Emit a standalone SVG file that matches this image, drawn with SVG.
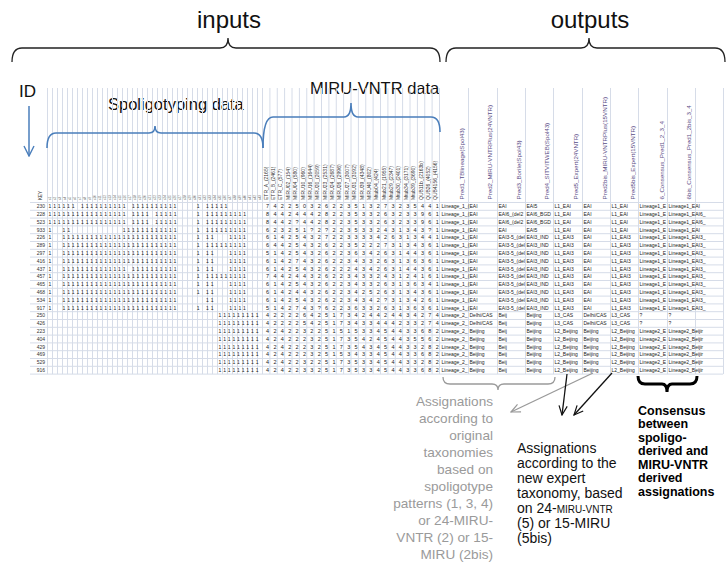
<svg xmlns="http://www.w3.org/2000/svg" xmlns:xlink="http://www.w3.org/1999/xlink" width="727" height="563" viewBox="0 0 727 563">
<style>
text{font-family:"Liberation Sans",Arial,sans-serif}
.big{font-size:24px;fill:#111;text-anchor:middle}
.lab{font-size:16.5px;fill:#111}
.id{font-size:5px;fill:#333;text-anchor:end}
.sp{font-size:5px;fill:#222;letter-spacing:2.22px}
.mv{font-size:5.5px;fill:#222;letter-spacing:4.317px}
.h{fill-opacity:0}
.o{font-size:5px;fill:#222}
.hd{font-size:6.2px;fill:#5a4c86}
.mh{font-size:5px;fill:#333}
.sh{font-size:3px;fill:#555}
.grid{stroke:#d6dce8;stroke-width:1;fill:none}
.brk{fill:none;stroke:#222;stroke-width:1.3}
.bb{fill:none;stroke:#4a7ebb;stroke-width:1.6}
.gt{font-size:13.6px;fill:#9a9a9a;text-anchor:end}
.bt{font-size:14px;fill:#111}
.bd{font-size:12.5px;fill:#000;font-weight:bold}
</style>
<defs>
<marker id="ab" viewBox="0 0 12 12" refX="11" refY="6" markerWidth="11" markerHeight="11" orient="auto" markerUnits="userSpaceOnUse"><path d="M1,1.5 L11,6 L1,10.5" fill="none" stroke="#111" stroke-width="1.3"/></marker>
<marker id="ag" viewBox="0 0 12 12" refX="11" refY="6" markerWidth="11" markerHeight="11" orient="auto" markerUnits="userSpaceOnUse"><path d="M1,1.5 L11,6 L1,10.5" fill="none" stroke="#999" stroke-width="1.3"/></marker>
<marker id="abl" viewBox="0 0 12 12" refX="11" refY="6" markerWidth="12" markerHeight="12" orient="auto" markerUnits="userSpaceOnUse"><path d="M1,1 L11,6 L1,11" fill="none" stroke="#4a7ebb" stroke-width="1.4"/></marker>
<g id="oA" class="o"><text x="441.5">Lineage_1_(</text><text x="469.5">EAI</text><text x="498.5">EAI</text><text x="526.5">EAI5</text><text x="554.5">L1_EAI</text><text x="583.5">EAI</text><text x="611.5">L1_EAI</text><text x="639.5">Lineage1_E</text><text x="668.5">Lineage1_EAI</text></g>
<g id="oB" class="o"><text x="441.5">Lineage_1_(</text><text x="469.5">EAI</text><text x="498.5">EAI6_(del2</text><text x="526.5">EAI6_BGD</text><text x="554.5">L1_EAI</text><text x="583.5">EAI</text><text x="611.5">L1_EAI</text><text x="639.5">Lineage1_E</text><text x="668.5">Lineage1_EAI6_</text></g>
<g id="oC" class="o"><text x="441.5">Lineage_1_(</text><text x="469.5">EAI</text><text x="498.5">EAI3-5_(del</text><text x="526.5">EAI3_IND</text><text x="554.5">L1_EAI3</text><text x="583.5">EAI</text><text x="611.5">L1_EAI3</text><text x="639.5">Lineage1_E</text><text x="668.5">Lineage1_EAI3_</text></g>
<g id="oD" class="o"><text x="441.5">Lineage_2_</text><text x="469.5">Delhi/CAS</text><text x="498.5">Beij</text><text x="526.5">Beijing</text><text x="554.5">L3_CAS</text><text x="583.5">Delhi/CAS</text><text x="611.5">L3_CAS</text><text x="639.5">?</text><text x="668.5">?</text></g>
<g id="oE" class="o"><text x="441.5">Lineage_2_</text><text x="469.5">Beijing</text><text x="498.5">Beij</text><text x="526.5">Beijing</text><text x="554.5">L2_Beijing</text><text x="583.5">Beijing</text><text x="611.5">L2_Beijing</text><text x="639.5">Lineage2_E</text><text x="668.5">Lineage2_Beijir</text></g>
<text id="s4" class="sp" x="48.6">1<tspan class="h">11</tspan>1111111111111111111111111<tspan class="h">1111</tspan>1<tspan class="h">1</tspan>11<tspan class="h">111</tspan>1111</text>
<text id="s5" class="sp" x="48.6">1<tspan class="h">11</tspan>1111111111111111111111111<tspan class="h">1111</tspan>1<tspan class="h">1</tspan>111111111</text>
<text id="s1" class="sp" x="48.6">11111111111111111<tspan class="h">1</tspan>1111<tspan class="h">1</tspan>11111<tspan class="h">1111</tspan>1<tspan class="h">1</tspan>111111111</text>
<text id="sB" class="sp" x="218.6">111111111</text>
</defs>

<g id="titles">
<text class="big" x="229" y="28">inputs</text>
<text class="big" x="590" y="28">outputs</text>
<text class="lab" x="19" y="97" style="font-size:17px">ID</text>
<text class="lab" x="310" y="94">MIRU-VNTR data</text>
<text class="lab" x="108" y="110">Spoligotyping data</text>
</g>

<g id="gridlines">
<path class="grid" d="M47.5 88V374.1M52.5 88V374.1M57.5 88V374.1M62.5 88V374.1M67.5 88V374.1M72.5 88V374.1M77.5 88V374.1M82.5 88V374.1M87.5 88V374.1M92.5 88V374.1M97.5 88V374.1M102.5 88V374.1M107.5 88V374.1M112.5 88V374.1M117.5 88V374.1M122.5 88V374.1M127.5 88V374.1M132.5 88V374.1M137.5 88V374.1M142.5 88V374.1M147.5 88V374.1M152.5 88V374.1M157.5 88V374.1M162.5 88V374.1M167.5 88V374.1M172.5 88V374.1M177.5 88V374.1M182.5 88V374.1M187.5 88V374.1M192.5 88V374.1M197.5 88V374.1M202.5 88V374.1M207.5 88V374.1M212.5 88V374.1M217.5 88V374.1M222.5 88V374.1M227.5 88V374.1M232.5 88V374.1M237.5 88V374.1M242.5 88V374.1M247.5 88V374.1M252.5 88V374.1M257.5 88V374.1M262.5 88V374.1M269.9 88V374.1M277.25 88V374.1M284.6 88V374.1M292 88V374.1M299.4 88V374.1M306.75 88V374.1M314.1 88V374.1M321.5 88V374.1M328.9 88V374.1M336.25 88V374.1M343.6 88V374.1M351 88V374.1M358.4 88V374.1M365.75 88V374.1M373.1 88V374.1M380.5 88V374.1M387.9 88V374.1M395.25 88V374.1M402.6 88V374.1M410 88V374.1M417.4 88V374.1M424.75 88V374.1M432.1 88V374.1M439.5 88V374.1M468.5 88V374.1M497.5 88V374.1M525.5 88V374.1M553.5 88V374.1M582.5 88V374.1M610.5 88V374.1M638.5 88V374.1M667.5 88V374.1M695.5 88V374.1M723.5 88V374.1"/>
<path class="grid" d="M30 202.5H723M30 210.3H723M30 218.1H723M30 225.9H723M30 233.7H723M30 241.5H723M30 249.3H723M30 257.1H723M30 264.9H723M30 272.7H723M30 280.5H723M30 288.3H723M30 296.1H723M30 303.9H723M30 311.7H723M30 319.5H723M30 327.3H723M30 335.1H723M30 342.9H723M30 350.7H723M30 358.5H723M30 366.3H723M30 374.1H723"/>
</g>

<g id="headers">
<text class="mh" transform="translate(42,200) rotate(-90)" style="font-size:4.5px">KEY</text>
<g class="sh">
<text transform="translate(51,200) rotate(-90)">s1</text><text transform="translate(56,200) rotate(-90)">s2</text><text transform="translate(61,200) rotate(-90)">s3</text><text transform="translate(66,200) rotate(-90)">s4</text><text transform="translate(71,200) rotate(-90)">s5</text><text transform="translate(76,200) rotate(-90)">s6</text><text transform="translate(81,200) rotate(-90)">s7</text><text transform="translate(86,200) rotate(-90)">s8</text><text transform="translate(91,200) rotate(-90)">s9</text><text transform="translate(96,200) rotate(-90)">s10</text><text transform="translate(101,200) rotate(-90)">s11</text><text transform="translate(106,200) rotate(-90)">s12</text><text transform="translate(111,200) rotate(-90)">s13</text><text transform="translate(116,200) rotate(-90)">s14</text><text transform="translate(121,200) rotate(-90)">s15</text><text transform="translate(126,200) rotate(-90)">s16</text><text transform="translate(131,200) rotate(-90)">s17</text><text transform="translate(136,200) rotate(-90)">s18</text><text transform="translate(141,200) rotate(-90)">s19</text><text transform="translate(146,200) rotate(-90)">s20</text><text transform="translate(151,200) rotate(-90)">s21</text><text transform="translate(156,200) rotate(-90)">s22</text><text transform="translate(161,200) rotate(-90)">s23</text><text transform="translate(166,200) rotate(-90)">s24</text><text transform="translate(171,200) rotate(-90)">s25</text><text transform="translate(176,200) rotate(-90)">s26</text><text transform="translate(181,200) rotate(-90)">s27</text><text transform="translate(186,200) rotate(-90)">s28</text><text transform="translate(191,200) rotate(-90)">s29</text><text transform="translate(196,200) rotate(-90)">s30</text><text transform="translate(201,200) rotate(-90)">s31</text><text transform="translate(206,200) rotate(-90)">s32</text><text transform="translate(211,200) rotate(-90)">s33</text><text transform="translate(216,200) rotate(-90)">s34</text><text transform="translate(221,200) rotate(-90)">s35</text><text transform="translate(226,200) rotate(-90)">s36</text><text transform="translate(231,200) rotate(-90)">s37</text><text transform="translate(236,200) rotate(-90)">s38</text><text transform="translate(241,200) rotate(-90)">s39</text><text transform="translate(246,200) rotate(-90)">s40</text><text transform="translate(251,200) rotate(-90)">s41</text><text transform="translate(256,200) rotate(-90)">s42</text><text transform="translate(261,200) rotate(-90)">s43</text>
</g>
<g class="mh">
<text transform="translate(267.7,200) rotate(-90)">ETR_A_(2165)</text><text transform="translate(275.1,200) rotate(-90)">ETR_B_(2461)</text><text transform="translate(282.4,200) rotate(-90)">ETR_C_(577)</text><text transform="translate(289.8,200) rotate(-90)">MIRU02_(154)</text><text transform="translate(297.2,200) rotate(-90)">MIRU04_(580)</text><text transform="translate(304.6,200) rotate(-90)">MIRU10_(960)</text><text transform="translate(311.9,200) rotate(-90)">MIRU16_(1644)</text><text transform="translate(319.3,200) rotate(-90)">MIRU20_(2059)</text><text transform="translate(326.7,200) rotate(-90)">MIRU23_(2531)</text><text transform="translate(334.1,200) rotate(-90)">MIRU24_(2687)</text><text transform="translate(341.4,200) rotate(-90)">MIRU26_(2996)</text><text transform="translate(348.8,200) rotate(-90)">MIRU27_(3007)</text><text transform="translate(356.2,200) rotate(-90)">MIRU31_(3192)</text><text transform="translate(363.6,200) rotate(-90)">MIRU39_(4348)</text><text transform="translate(370.9,200) rotate(-90)">MIRU40_(802)</text><text transform="translate(378.3,200) rotate(-90)">Mtub04_(424)</text><text transform="translate(385.7,200) rotate(-90)">Mtub21_(1955)</text><text transform="translate(393.1,200) rotate(-90)">Mtub29_(2347)</text><text transform="translate(400.4,200) rotate(-90)">Mtub30_(2401)</text><text transform="translate(407.8,200) rotate(-90)">Mtub34_(3171)</text><text transform="translate(415.2,200) rotate(-90)">Mtub39_(3690)</text><text transform="translate(422.6,200) rotate(-90)">QUB11b_(2163b)</text><text transform="translate(429.9,200) rotate(-90)">QUB26_(4052)</text><text transform="translate(437.3,200) rotate(-90)">QUB4156_(4156)</text>
</g>
<g class="hd">
<text transform="translate(464,199.5) rotate(-90)">Pred1_TBlineage(Spol43)</text>
<text transform="translate(492,199.5) rotate(-90)">Pred2_MIRU-VNTRPlus(24VNTR)</text>
<text transform="translate(520.5,199.5) rotate(-90)">Pred3_Borile(Spol43)</text>
<text transform="translate(549,199.5) rotate(-90)">Pred4_SITVITWEB(Spol43)</text>
<text transform="translate(578,199.5) rotate(-90)">Pred5_Expert(24VNTR)</text>
<text transform="translate(607,199.5) rotate(-90)">Pred2bis_MIRU-VNTRPlus(15VNTR)</text>
<text transform="translate(635,199.5) rotate(-90)">Pred5bis_Expert(15VNTR)</text>
<text transform="translate(664,199.5) rotate(-90)">6_Consensus_Pred1_2_3_4</text>
<text transform="translate(691,199.5) rotate(-90)">6bis_Consensus_Pred1_2bis_3_4</text>
</g>
</g>

<g id="rows">
<g transform="translate(0,208.2)"><text class="id" x="45">230</text><text class="sp" x="48.6">111111<tspan class="h">1</tspan>1111111111<tspan class="h">1</tspan>1111111111<tspan class="h">1111</tspan>1<tspan class="h">1</tspan>11111</text><text class="mv" x="266.07">742250326223513273235441</text><use xlink:href="#oA"/></g>
<g transform="translate(0,216)"><text class="id" x="45">228</text><use xlink:href="#s1"/><text class="mv" x="266.07">844244428223533263233961</text><use xlink:href="#oB"/></g>
<g transform="translate(0,223.8)"><text class="id" x="45">523</text><use xlink:href="#s1"/><text class="mv" x="266.07">8442?4428223533263233961</text><use xlink:href="#oB"/></g>
<g transform="translate(0,231.6)"><text class="id" x="45">933</text><text class="sp" x="48.6">1<tspan class="h">11</tspan>11<tspan class="h">11111111111</tspan>111111111111<tspan class="h">1111</tspan>1<tspan class="h">1</tspan>111111111</text><text class="mv" x="266.07">623251?2?2235332431343?1</text><use xlink:href="#oA"/></g>
<g transform="translate(0,239.4)"><text class="id" x="45">226</text><use xlink:href="#s4"/><text class="mv" x="266.07">614254327223333426313441</text><use xlink:href="#oC"/></g>
<g transform="translate(0,247.2)"><text class="id" x="45">289</text><use xlink:href="#s5"/><text class="mv" x="266.07">644254326223522273134361</text><use xlink:href="#oC"/></g>
<g transform="translate(0,255)"><text class="id" x="45">297</text><use xlink:href="#s4"/><text class="mv" x="266.07">514254326223634263144361</text><use xlink:href="#oC"/></g>
<g transform="translate(0,262.8)"><text class="id" x="45">416</text><use xlink:href="#s4"/><text class="mv" x="266.07">614274326223433263136361</text><use xlink:href="#oC"/></g>
<g transform="translate(0,270.6)"><text class="id" x="45">437</text><text class="sp" x="48.6">1<tspan class="h">11</tspan>11111111111111<tspan class="h">1</tspan>1111111111<tspan class="h">1111</tspan>1<tspan class="h">1</tspan>11<tspan class="h">111</tspan>1111</text><text class="mv" x="266.07">614254326222434263144361</text><use xlink:href="#oC"/></g>
<g transform="translate(0,278.4)"><text class="id" x="45">457</text><use xlink:href="#s5"/><text class="mv" x="266.07">744244326223433243124161</text><use xlink:href="#oC"/></g>
<g transform="translate(0,286.2)"><text class="id" x="45">465</text><use xlink:href="#s4"/><text class="mv" x="266.07">614254326223433263136341</text><use xlink:href="#oC"/></g>
<g transform="translate(0,294)"><text class="id" x="45">468</text><use xlink:href="#s4"/><text class="mv" x="266.07">614244326223425263134361</text><use xlink:href="#oC"/></g>
<g transform="translate(0,301.8)"><text class="id" x="45">534</text><text class="sp" x="48.6">1<tspan class="h">11</tspan>1111111111111111111111111<tspan class="h">111111</tspan>11<tspan class="h">111</tspan>1111</text><text class="mv" x="266.07">6142543262234342?3134261</text><use xlink:href="#oC"/></g>
<g transform="translate(0,309.6)"><text class="id" x="45">917</text><use xlink:href="#s4"/><text class="mv" x="266.07">5142743?6223633263136361</text><use xlink:href="#oC"/></g>
<g transform="translate(0,317.4)"><text class="id" x="45">250</text><use xlink:href="#sB"/><text class="mv" x="266.07">422226425173424424434274</text><use xlink:href="#oD"/></g>
<g transform="translate(0,325.2)"><text class="id" x="45">426</text><use xlink:href="#sB"/><text class="mv" x="266.07">422225425173433444233274</text><use xlink:href="#oD"/></g>
<g transform="translate(0,333)"><text class="id" x="45">223</text><use xlink:href="#sB"/><text class="mv" x="266.07">424223225151533454433682</text><use xlink:href="#oE"/></g>
<g transform="translate(0,340.8)"><text class="id" x="45">404</text><use xlink:href="#sB"/><text class="mv" x="266.07">424222325173542454435562</text><use xlink:href="#oE"/></g>
<g transform="translate(0,348.6)"><text class="id" x="45">429</text><use xlink:href="#sB"/><text class="mv" x="266.07">424222325173543454433282</text><use xlink:href="#oE"/></g>
<g transform="translate(0,356.4)"><text class="id" x="45">469</text><use xlink:href="#sB"/><text class="mv" x="266.07">424222325153433454433682</text><use xlink:href="#oE"/></g>
<g transform="translate(0,364.2)"><text class="id" x="45">529</text><use xlink:href="#sB"/><text class="mv" x="266.07">424223225173533454433282</text><use xlink:href="#oE"/></g>
<g transform="translate(0,372)"><text class="id" x="45">916</text><use xlink:href="#sB"/><text class="mv" x="266.07">424223325173533454433682</text><use xlink:href="#oE"/></g>
</g>

<g id="connectors">
<path class="brk" d="M12,62 Q12,48 22,48 H220 Q228,48 228,38 Q228,48 236,48 H430 Q440,48 440,62"/>
<path class="brk" d="M446,62 Q446,48 456,48 H581 Q589,48 589,38 Q589,48 597,48 H715 Q725,48 725,62"/>
<path class="bb" d="M47,148 Q47,133 56,133 H149 Q155,133 155,126 Q155,133 161,133 H254 Q263,133 263,148"/>
<path class="bb" d="M263,148 Q263,117 273,117 H344 Q351,117 351,103 Q351,117 358,117 H431 Q440,117 440,132"/>
<line x1="29" y1="106" x2="29" y2="156" stroke="#4a7ebb" stroke-width="1.5" marker-end="url(#abl)"/>
<path d="M443,377 Q443,384 450,384 H492 Q498,384 498,390 Q498,384 504,384 H548 Q555,384 555,377" fill="none" stroke="#9a9a9a" stroke-width="1.3"/>
<line x1="593" y1="373" x2="511" y2="412" stroke="#999" stroke-width="1.3" marker-end="url(#ag)"/>
<line x1="567" y1="374" x2="562" y2="415" stroke="#111" stroke-width="1.3" marker-end="url(#ab)"/>
<line x1="612" y1="373" x2="574" y2="415" stroke="#111" stroke-width="1.3" marker-end="url(#ab)"/>
<path d="M638,376 Q638,384 645,384 H662 Q667,384 667,392 Q667,384 672,384 H690 Q697,384 697,376" fill="none" stroke="#000" stroke-width="3"/>
</g>

<g id="notes">
<text class="gt" x="493" y="406">Assignations</text>
<text class="gt" x="493" y="423">according to</text>
<text class="gt" x="493" y="440">original</text>
<text class="gt" x="493" y="457">taxonomies</text>
<text class="gt" x="493" y="474">based on</text>
<text class="gt" x="493" y="491">spoligotype</text>
<text class="gt" x="493" y="508">patterns (1, 3, 4)</text>
<text class="gt" x="493" y="525">or 24-MIRU-</text>
<text class="gt" x="493" y="542">VNTR (2) or 15-</text>
<text class="gt" x="493" y="559">MIRU (2bis)</text>
<text class="bt" x="517" y="453">Assignations</text>
<text class="bt" x="517" y="468">according to the</text>
<text class="bt" x="517" y="483">new expert</text>
<text class="bt" x="517" y="498">taxonomy, based</text>
<text class="bt" x="517" y="513">on 24-<tspan style="font-size:10px">MIRU-VNTR</tspan></text>
<text class="bt" x="517" y="528">(5) or 15-MIRU</text>
<text class="bt" x="517" y="543">(5bis)</text>
<text class="bd" x="638" y="414.5">Consensus</text>
<text class="bd" x="638" y="428">between</text>
<text class="bd" x="638" y="441.5">spoligo-</text>
<text class="bd" x="638" y="455">derived and</text>
<text class="bd" x="638" y="468.5">MIRU-VNTR</text>
<text class="bd" x="638" y="482">derived</text>
<text class="bd" x="638" y="495.5">assignations</text>
</g>
</svg>
